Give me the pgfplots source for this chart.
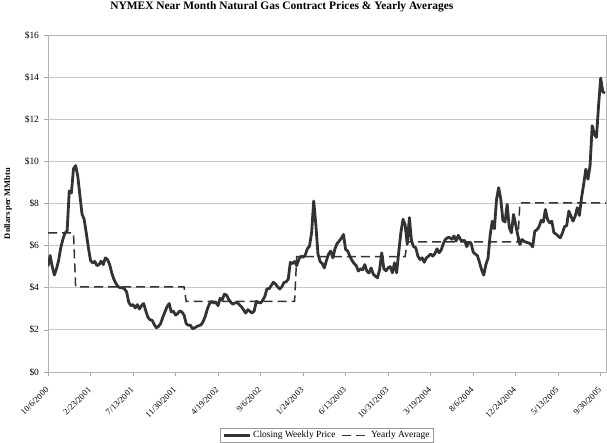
\documentclass[border=0pt]{standalone}
\usepackage{pgfplots}
\pgfplotsset{compat=1.18}
\usepackage{fontspec}
\setmainfont{Liberation Serif}
\definecolor{pricec}{HTML}{333333}
\definecolor{avgc}{HTML}{333333}

\pgfplotstableread{
w p
0 5.02
1 5.53
2 5.00
3 4.60
4 4.90
5 5.30
6 5.90
7 6.30
8 6.60
9 6.70
10 8.60
11 8.50
12 9.65
13 9.80
14 9.30
15 8.40
16 7.50
17 7.25
18 6.60
19 5.90
20 5.30
21 5.18
22 5.25
23 5.05
24 5.10
25 5.26
26 5.10
27 5.42
28 5.34
29 5.10
30 4.70
31 4.40
32 4.20
33 4.05
34 4.00
35 4.00
36 3.94
37 3.80
38 3.30
39 3.15
40 3.20
41 3.04
42 3.20
43 2.99
44 3.15
45 3.25
46 2.90
47 2.60
48 2.48
49 2.45
50 2.25
51 2.10
52 2.17
53 2.30
54 2.60
55 2.85
56 3.10
57 3.25
58 2.85
59 2.89
60 2.70
61 2.78
62 2.90
63 2.85
64 2.70
65 2.30
66 2.22
67 2.22
68 2.05
69 2.10
70 2.16
71 2.20
72 2.24
73 2.40
74 2.65
75 3.00
76 3.25
77 3.35
78 3.28
79 3.30
80 3.15
81 3.50
82 3.43
83 3.70
84 3.65
85 3.45
86 3.31
87 3.22
88 3.28
89 3.30
90 3.20
91 3.10
92 2.95
93 2.80
94 2.96
95 2.88
96 2.80
97 2.90
98 3.35
99 3.30
100 3.28
101 3.40
102 3.59
103 3.95
104 3.95
105 4.10
106 4.26
107 4.18
108 4.05
109 3.94
110 4.04
111 4.25
112 4.28
113 4.40
114 5.20
115 5.15
116 5.25
117 5.05
118 5.35
119 5.50
120 5.45
121 5.55
122 5.85
123 5.97
124 6.60
125 8.12
126 7.00
127 5.60
128 5.25
129 5.15
130 4.94
131 5.30
132 5.60
133 5.74
134 5.42
135 5.85
136 6.10
137 6.22
138 6.35
139 6.53
140 5.82
141 5.74
142 5.50
143 5.30
144 5.15
145 5.05
146 4.79
147 4.90
148 4.85
149 5.10
150 4.79
151 4.70
152 4.94
153 4.65
154 4.55
155 4.47
156 4.86
157 5.66
158 4.90
159 4.80
160 4.95
161 5.00
162 4.71
163 5.18
164 4.71
165 5.70
166 6.61
167 7.25
168 7.00
169 6.06
170 7.33
171 6.22
172 5.95
173 5.90
174 5.50
175 5.34
176 5.42
177 5.21
178 5.42
179 5.50
180 5.60
181 5.50
182 5.62
183 5.85
184 5.66
185 5.80
186 6.10
187 6.30
188 6.38
189 6.38
190 6.30
191 6.46
192 6.22
193 6.49
194 6.30
195 6.22
196 6.25
197 5.95
198 6.16
199 6.13
200 5.70
201 5.60
202 5.53
203 5.20
204 4.85
205 4.60
206 5.10
207 5.40
208 6.50
209 7.16
210 6.80
211 8.20
212 8.75
213 8.20
214 7.20
215 7.12
216 7.96
217 6.85
218 6.61
219 7.48
220 7.00
221 6.50
222 6.05
223 6.29
224 6.20
225 6.16
226 6.13
227 6.08
228 5.94
229 6.69
230 6.75
231 6.90
232 7.20
233 7.12
234 7.72
235 7.24
236 7.08
237 7.16
238 6.61
239 6.55
240 6.45
241 6.37
242 6.60
243 6.90
244 6.95
245 7.64
246 7.40
247 7.16
248 7.40
249 7.80
250 7.43
251 8.28
252 8.91
253 9.63
254 9.15
255 9.79
256 11.69
257 11.30
258 11.14
259 12.65
260 13.95
261 13.30
262 13.25
}\pricetable

\pgfplotstableread{
w a
0 6.60
12 6.60
13 4.04
64 4.04
65 3.35
116 3.35
117 5.48
168 5.48
169 6.18
221 6.18
222 8.03
262.5 8.03
}\avgtable

\begin{document}
\begin{tikzpicture}
\path[use as bounding box] (0,0) rectangle (607bp,443bp);
\begin{axis}[
  at={(48bp,71bp)}, anchor=south west,
  scale only axis, width=558bp, height=337bp,
  xmin=0, xmax=262.5, ymin=0, ymax=16,
  xtick={0,20,...,260},
  xticklabels={10/6/2000,2/23/2001,7/13/2001,11/30/2001,4/19/2002,9/6/2002,1/24/2003,6/13/2003,10/31/2003,3/19/2004,8/6/2004,12/24/2004,5/13/2005,9/30/2005},
  ytick={0,2,...,16},
  yticklabels={\$0,\$2,\$4,\$6,\$8,\$10,\$12,\$14,\$16},
  /pgf/number format/assume math mode=true,
  ymajorgrids,
  grid style={draw=black!22, line width=0.8bp},
  xtick pos=bottom, ytick pos=left,
  tick align=outside, major tick length=3.5bp,
  tick style={draw=black!35, line width=0.7bp},
  axis line style={draw=black!30, line width=0.8bp},
  ticklabel style={font=\fontsize{9.5}{10}\selectfont, text=black},
  x tick label style={font=\fontsize{8.7}{9}\selectfont, xshift=-3bp, yshift=-11bp, rotate=45, anchor=north east, inner sep=0pt},
  y tick label style={xshift=-2bp},
  title={NYMEX Near Month Natural Gas Contract Prices \& Yearly Averages},
  title style={at={(0.419,1)}, anchor=base, yshift=20bp, font=\bfseries\fontsize{11.5}{12}\selectfont},
  ylabel={Dollars per MMbtu},
  ylabel style={at={(axis description cs:-0.0717,0.5)}, anchor=center, font=\bfseries\fontsize{8.5}{9}\selectfont},
  legend columns=2,
  legend style={at={(0.5,0)}, anchor=north, yshift=-56bp, draw=black!40, line width=0.6bp,
    font=\fontsize{9.5}{10}\selectfont, inner xsep=2bp, inner ysep=1bp,
    /tikz/every even column/.append style={column sep=4bp}},
  legend image code/.code={\draw[#1] (0bp,0bp) -- (26bp,0bp);},
]
\addplot[draw=pricec, line width=2.8bp, line join=round] table[x=w, y=p] {\pricetable};
\addlegendentry{Closing Weekly Price}
\addplot[draw=avgc, line width=1.5bp, dash pattern=on 9bp off 5bp] table[x=w, y=a] {\avgtable};
\addlegendentry{Yearly Average}
\end{axis}
\end{tikzpicture}
\end{document}
